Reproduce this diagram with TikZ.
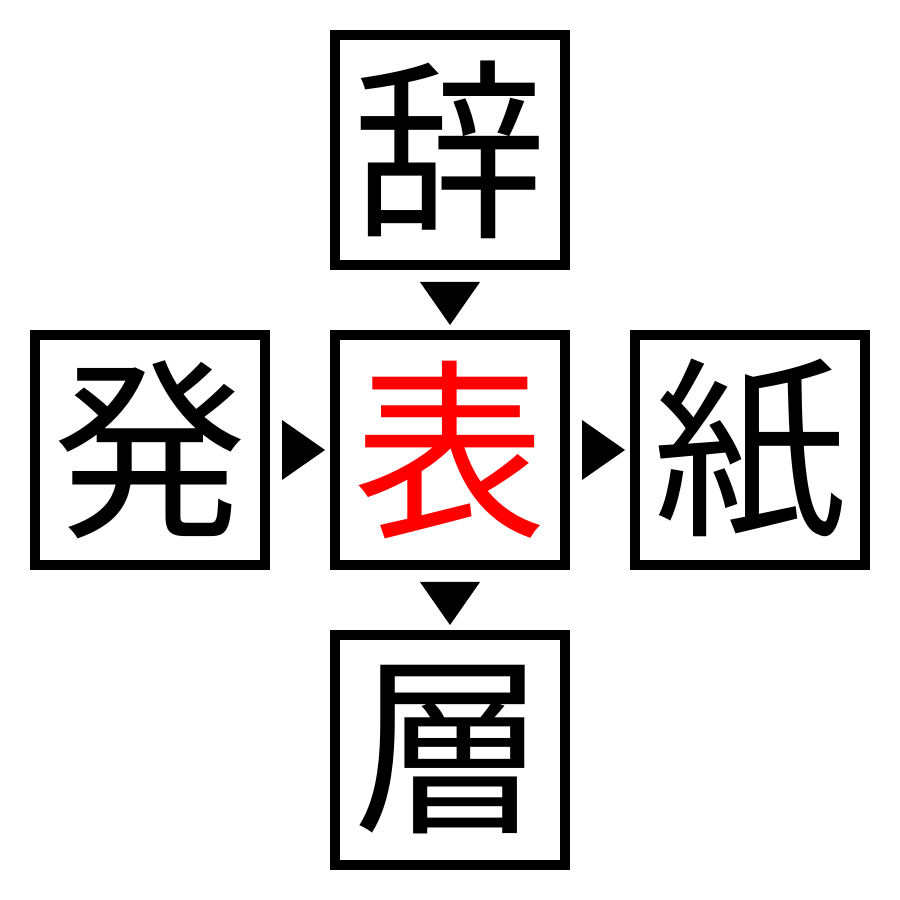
\documentclass[tikz,border=0pt]{standalone}
\usepackage{fontspec}
\newfontfamily\jpfont{Noto Sans CJK JP}
\usepackage{tikz}

\tikzset{
  kbox/.style={draw,line width=0.1cm,minimum size=2.3cm,inner sep=0pt,
               font=\jpfont\fontsize{55}{55}\selectfont},
  mark/.style={fill=black}
}

\begin{document}
\begin{tikzpicture}
  \useasboundingbox (0,0) rectangle (9,9);

  \node[kbox]         (TOP)   at (+4.5,+7.5) {辞};
  \node[kbox]         (LEFT)  at (+1.5,+4.5) {発};
  \node[kbox,text=red] (MID)  at (+4.5,+4.5) {表};
  \node[kbox]         (RIGHT) at (+7.5,+4.5) {紙};
  \node[kbox]         (BOT)   at (+4.5,+1.5) {層};

  \fill (4.2,6.18) -- (4.8,6.18) -- (4.5,5.75) -- cycle;
  \fill (4.2,3.18) -- (4.8,3.18) -- (4.5,2.75) -- cycle;
  \fill (2.82,4.8) -- (2.82,4.2) -- (3.25,4.5) -- cycle;
  \fill (5.82,4.8) -- (5.82,4.2) -- (6.25,4.5) -- cycle;

\end{tikzpicture}
\end{document}
